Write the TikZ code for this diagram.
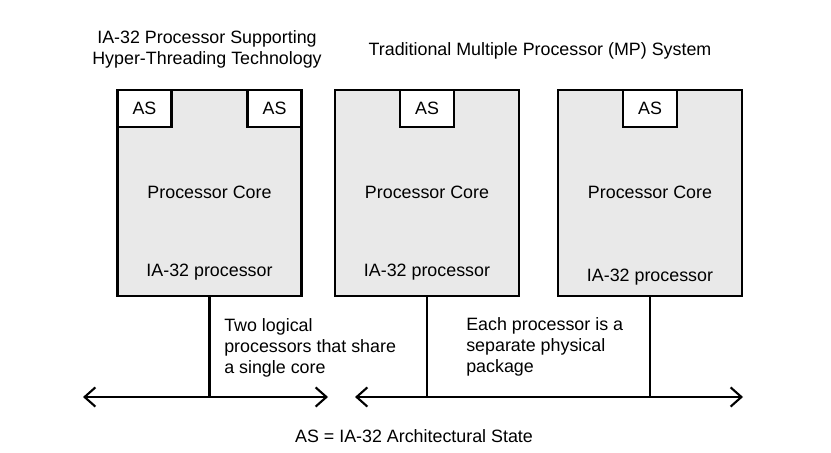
\documentclass[tikz,border=0pt]{standalone}
\usepackage{fontspec}
\setmainfont{Liberation Sans}
\usetikzlibrary{arrows.meta}
\definecolor{coregray}{RGB}{233,233,233}
\begin{document}
\begin{tikzpicture}[
			x=0.025cm, y=-0.025cm,
			every node/.style={font=\fontsize{12.7pt}{14.9pt}\selectfont},
			core/.style={draw, line width=1.5pt, fill=coregray, minimum width=4.6cm, minimum height=5.14cm, inner sep=0pt},
			asbox/.style={draw, line width=1.5pt, fill=white, minimum width=1.35cm, minimum height=0.93cm, inner sep=0pt},
			bus/.style={line width=1.5pt, {Straight Barb[length=0.27cm,width=0.48cm]}-{Straight Barb[length=0.27cm,width=0.48cm]}},
			wire/.style={line width=1.5pt}
			]

				\useasboundingbox (0,0) rectangle (831,453);

				% titles
				\node[align=center] (htt) at (207,49.5) {IA-32 Processor Supporting\\Hyper-Threading Technology};
				\node (mp) at (540,51) {Traditional Multiple Processor (MP) System};

				% processors
				\node[core] (core1) at (209.5,192.75) {Processor Core};
				\node[core] (core2) at (427,192.75) {Processor Core};
				\node[core] (core3) at (650,192.75) {Processor Core};

				\node[asbox, anchor=north west] (as1a) at (core1.north west) {AS};
				\node[asbox, anchor=north east] (as1b) at (core1.north east) {AS};
				\node[asbox, anchor=north] (as2) at (core2.north) {AS};
				\node[asbox, anchor=north] (as3) at (core3.north) {AS};

				\node (ia1) at (209.5,272) {IA-32 processor};
				\node (ia2) at (427,272) {IA-32 processor};
				\node (ia3) at (650,277) {IA-32 processor};

				% buses
				\coordinate (b1l) at (83,397);
				\coordinate (b1r) at (328,397);
				\coordinate (b2l) at (355,397);
				\coordinate (b2r) at (743,397);

				\draw[bus] (b1l) -- (b1r);
				\draw[bus] (b2l) -- (b2r);

				\draw[wire] (core1.south) -- (core1.south |- b1l);
				\draw[wire] (core2.south) -- (core2.south |- b2l);
				\draw[wire] (core3.south) -- (core3.south |- b2l);

				\node[align=left, anchor=west, inner sep=0pt] (share) at (224,348) {Two logical\\processors that share\\a single core};
				\node[align=left, anchor=west, inner sep=0pt] (pkg) at (466,347) {Each processor is a\\separate physical\\package};

				\node (key) at (414,436) {AS = IA-32 Architectural State};

			\end{tikzpicture}
\end{document}
